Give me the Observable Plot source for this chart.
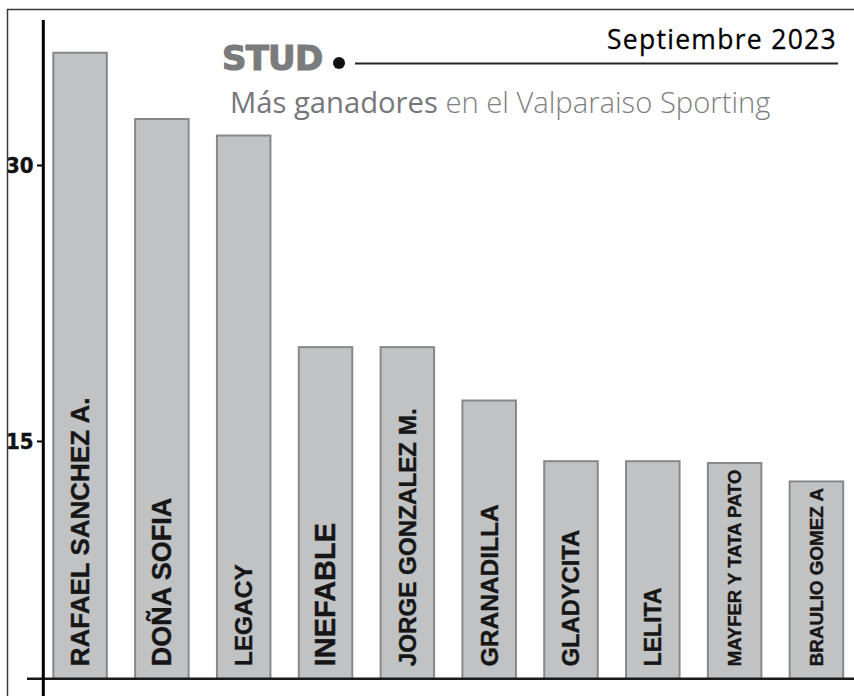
<!DOCTYPE html>
<html>
<head>
<meta charset="utf-8">
<script src="https://cdn.jsdelivr.net/npm/d3@7"></script>
<script src="https://cdn.jsdelivr.net/npm/@observablehq/plot@0.6"></script>
<style>
  html, body { margin: 0; padding: 0; background: #fff; }
  #wrap { position: relative; width: 854px; height: 696px; overflow: hidden; background: #fff; }
  #wrap svg { position: absolute; left: 0; top: 0; }
</style>
</head>
<body>
<div id="wrap"></div>
<script>
// ---- data ----
const studs = [
  "RAFAEL SANCHEZ A.",
  "DOÑA SOFIA",
  "LEGACY",
  "INEFABLE",
  "JORGE GONZALEZ M.",
  "GRANADILLA",
  "GLADYCITA",
  "LELITA",
  "MAYFER Y TATA PATO",
  "BRAULIO GOMEZ A"
];
const winners = [36.1, 32.5, 31.6, 20.1, 20.1, 17.2, 13.9, 13.9, 13.8, 12.8];
const yTicks = [15, 30];
const titleText = "STUD";
const dateText = "Septiembre 2023";
const subtitleStrong = "Más ganadores";
const subtitleRest = " en el Valparaiso Sporting";

const data = studs.map((s, i) => ({stud: s, winners: winners[i]}));

// ---- style / layout ----
const W = 854, H = 696;
const mL = 43, mR = 0, mT = 20, mB = 17.7;
const yDomain = [2.1, 37.88];
const labelFont = "'Liberation Sans', Arial, Helvetica, sans-serif";
const tickFont = "'Liberation Sans Narrow', 'DejaVu Sans Condensed', 'Liberation Sans', sans-serif";
const baseLabelSize = 24.5;
// per-label type size tweaks seen in the original layout
const labelSizeStyle = {"RAFAEL SANCHEZ A.": 26, "DOÑA SOFIA": 27, "INEFABLE": 29, "JORGE GONZALEZ M.": 24.2, "GLADYCITA": 23.7, "LELITA": 23};

const plot = Plot.plot({
  width: W,
  height: H,
  marginLeft: mL,
  marginRight: mR,
  marginTop: mT,
  marginBottom: mB,
  style: {background: "transparent", overflow: "visible", fontFamily: labelFont},
  x: {domain: studs, range: [25.0, 871.5], padding: 0.346, round: false, axis: null},
  y: {domain: yDomain, axis: null},
  marks: [
    Plot.barY(data, {
      x: "stud", y: "winners",
      fill: "#c1c2c4", stroke: "#87888a", strokeWidth: 2, clip: true
    }),
    Plot.text(data, {
      x: "stud", text: "stud",
      frameAnchor: "bottom", dy: -12.5,
      rotate: -90, textAnchor: "start", lineAnchor: "middle",
      fontSize: baseLabelSize, fontWeight: "bold", fill: "#161616",
      stroke: "#161616", strokeWidth: 0.4,
      fontFamily: labelFont
    }),
    Plot.axisY({
      ticks: yTicks, tickSize: 6, tickPadding: 4,
      stroke: "#000", strokeWidth: 2, fill: "#111",
      fontSize: 22, fontWeight: "bold", fontFamily: tickFont,
      label: null
    })
  ]
});

document.getElementById("wrap").appendChild(plot);

const svg = d3.select(plot);
const ys = plot.scale("y");
const baseY = ys.apply(yDomain[0]);

// size labels; shrink long ones to fit inside their bars
svg.selectAll("g[aria-label='text'] text").each(function(_, i) {
  const el = this;
  const size = labelSizeStyle[studs[i]] || baseLabelSize;
  el.setAttribute("font-size", size);
  const len = el.getComputedTextLength();
  const top = ys.apply(winners[i]);
  const avail = (baseY - 12.5) - (top + 6);
  if (len > avail) {
    el.setAttribute("font-size", (size * avail / len).toFixed(2));
  }
});

// tick label styling
svg.selectAll("g[aria-label='y-axis tick label'] text")
  .attr("font-weight", "bold")
  .attr("font-family", tickFont)
  .attr("font-size", 22)
  .attr("stroke", "#111").attr("stroke-width", 0.4);

// decorations: border, axis line, baseline
const deco = svg.append("g");
deco.append("line").attr("x1", 7).attr("x2", W).attr("y1", 9.5).attr("y2", 9.5)
  .attr("stroke", "#3a3a3a").attr("stroke-width", 1.5);
deco.append("line").attr("x1", 7.5).attr("x2", 7.5).attr("y1", 9).attr("y2", H)
  .attr("stroke", "#3a3a3a").attr("stroke-width", 1.5);
deco.append("line").attr("x1", 27).attr("x2", W).attr("y1", baseY + 0.5).attr("y2", baseY + 0.5)
  .attr("stroke", "#1a1a1a").attr("stroke-width", 2.5);
deco.append("line").attr("x1", mL + 0.3).attr("x2", mL + 0.3).attr("y1", mT).attr("y2", H)
  .attr("stroke", "#000").attr("stroke-width", 3);

// title block
const tb = svg.append("g").attr("text-anchor", "start");
tb.append("text").attr("x", 222).attr("y", 70).attr("text-anchor", "start")
  .attr("font-family", "'DejaVu Sans', sans-serif").attr("font-weight", "bold")
  .attr("font-size", 34).attr("letter-spacing", -0.8)
  .attr("fill", "#7a7b7d").attr("stroke", "#7a7b7d").attr("stroke-width", 1.2)
  .text(titleText);
tb.append("circle").attr("cx", 339).attr("cy", 63).attr("r", 6).attr("fill", "#111");
tb.append("line").attr("x1", 355).attr("x2", 838).attr("y1", 63.5).attr("y2", 63.5)
  .attr("stroke", "#222").attr("stroke-width", 2);
tb.append("text").attr("x", 837).attr("y", 48.5).attr("text-anchor", "end")
  .attr("font-family", "'Open Sans', sans-serif").attr("font-weight", 500)
  .attr("font-size", 26.5).attr("letter-spacing", 1.3).attr("fill", "#000")
  .attr("stroke", "#000").attr("stroke-width", 0.3)
  .text(dateText);
const sub = tb.append("text").attr("x", 230).attr("y", 113.3).attr("text-anchor", "start")
  .attr("font-family", "'Open Sans', sans-serif").attr("font-size", 29.2).attr("fill", "#7f8082");
sub.append("tspan").attr("font-weight", 500).attr("fill", "#76777a").text(subtitleStrong);
sub.append("tspan").attr("font-weight", 300).text(subtitleRest);
</script>
</body>
</html>
